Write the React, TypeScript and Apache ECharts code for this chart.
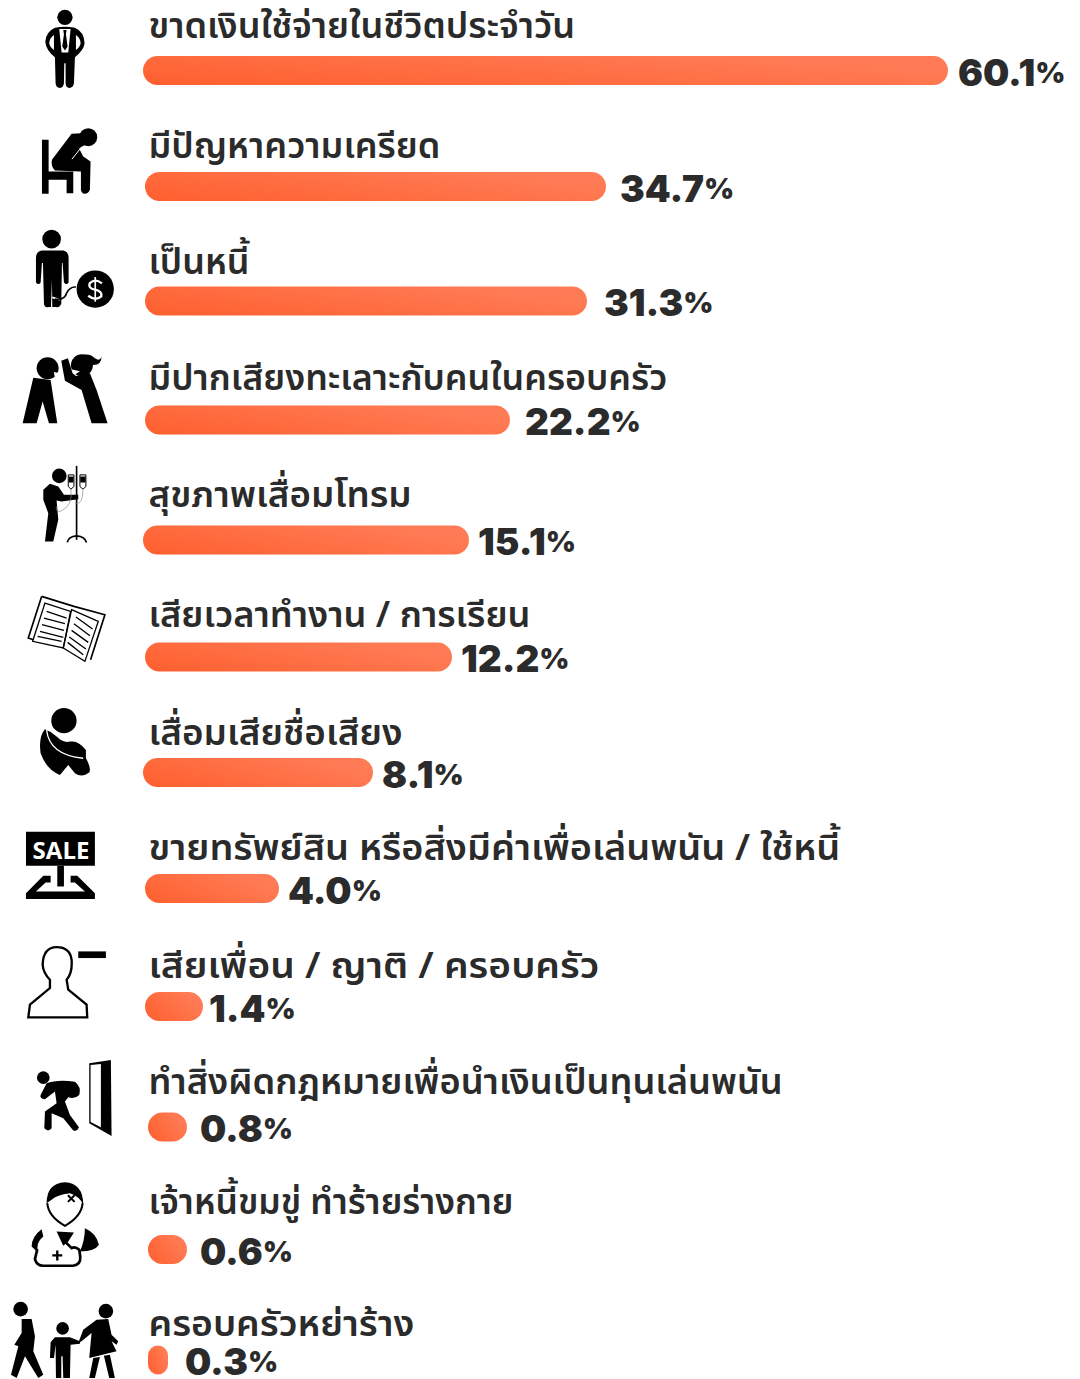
import React, { useEffect, useRef } from "react";
import * as echarts from "echarts";

const categories = [
  "ขาดเงินใช้จ่ายในชีวิตประจำวัน",
  "มีปัญหาความเครียด",
  "เป็นหนี้",
  "มีปากเสียงทะเลาะกับคนในครอบครัว",
  "สุขภาพเสื่อมโทรม",
  "เสียเวลาทำงาน / การเรียน",
  "เสื่อมเสียชื่อเสียง",
  "ขายทรัพย์สิน หรือสิ่งมีค่าเพื่อเล่นพนัน / ใช้หนี้",
  "เสียเพื่อน / ญาติ / ครอบครัว",
  "ทำสิ่งผิดกฎหมายเพื่อนำเงินเป็นทุนเล่นพนัน",
  "เจ้าหนี้ขมขู่ ทำร้ายร่างกาย",
  "ครอบครัวหย่าร้าง",
];
const percentages = ["60.1", "34.7", "31.3", "22.2", "15.1", "12.2", "8.1", "4.0", "1.4", "0.8", "0.6", "0.3"];
// The reference's bars are not proportional to the printed percentages; these are their drawn lengths.
const barLengths = [805, 461, 442, 365, 326, 307, 230, 134, 58, 39, 39, 20];

// layout (page pixels on the hidden value axes)
const barStarts = [143, 145, 145, 145, 143, 145, 143, 145, 145, 148, 148, 148];
const rowCentres = [70.5, 186.5, 301, 420, 540, 657, 772.5, 888.5, 1006.5, 1127, 1249.5, 1360];
const labelXs = [958, 620, 604, 525, 478, 461, 382, 288, 209, 200, 200, 185];
const titleBaselines = [45, 165, 281, 397, 514, 634, 752, 867, 985, 1101, 1221, 1343];
const titleWidths = [427, 292, 101, 519, 263, 382, 254, 692, 451, 635, 365, 266];

const TITLE_FONT = '"Noto Sans Thai","Noto Sans",sans-serif';
const TITLE_SIZE = 36;

const c = (x: number, y: number, r: number) =>
  `M${x - r} ${y}a${r} ${r} 0 1 0 ${2 * r} 0a${r} ${r} 0 1 0 ${-2 * r} 0Z`;

type Piece = { d: string; fill?: string; stroke?: string; w?: number };
type Icon = { oy: number; pieces: Piece[] };
const K = "#000";
const W = "#fff";

const icons: Icon[] = [
  { oy: 0, pieces: [
    { d: c(195, 52, 23), fill: K },
    { d: "M165 83Q195 78 225 83Q253 95 254 130Q252 150 225 172L222 250Q220 264 208 264Q198 264 197 250L197 190L193 190L192 250Q190 264 180 264Q168 264 167 250L165 172Q138 150 136 125Q138 95 165 83Z", fill: K },
    { d: "M162 105Q148 115 148 130Q150 143 162 150Z", fill: W },
    { d: "M228 105Q242 115 242 130Q240 143 228 150Z", fill: W },
    { d: "M178 87L212 87L205 158L185 158Z", fill: W },
    { d: "M190 90L200 90L198 103L203 140L195 152L187 140L192 103Z", fill: K },
  ]},
  { oy: 0, pieces: [
    { d: c(265, 412, 27), fill: K },
    { d: "M126 420L146 420L146 515L220 515L220 580L200 580L200 540L146 540L146 582L126 582Z", fill: K },
    { d: "M215 402L245 400L255 435L238 447L250 470L272 485L270 570Q265 582 255 582Q245 582 243 570L243 515L165 512Q152 500 156 480Z", fill: K },
    { d: "M216 478L246 440", stroke: W, w: 3 },
  ]},
  { oy: 0, pieces: [
    { d: c(155, 718, 28), fill: K },
    { d: "M125 752L190 752Q206 755 206 775L206 848Q200 858 192 848L188 790L186 790L184 912Q178 925 168 922L157 922L156 840L153 922L146 922Q134 925 132 912L129 790L126 790L122 848Q116 858 108 848L108 775Q108 755 125 752Z", fill: K },
    { d: "M157 893L180 900", stroke: W, w: 5 },
    { d: "M228 862Q210 860 200 880Q195 902 165 898", stroke: K, w: 5 },
    { d: c(286, 868, 56), fill: K },
    { d: "M306 851Q286 835 270 850Q263 866 286 870Q308 875 304 890Q287 905 265 888", stroke: W, w: 7 },
    { d: "M286 832L286 906", stroke: W, w: 5 },
  ]},
  { oy: 340, pieces: [
    { d: c(143, 85, 33), fill: K },
    { d: "M162 96L180 100L164 110Z", fill: W },
    { d: "M100 113L152 120L172 250L147 250L128 185L110 250L68 250Z", fill: K },
    { d: c(246, 76, 33), fill: K },
    { d: "M213 88L240 94L222 106Z", fill: W },
    { d: "M245 46Q270 38 285 55Q300 65 305 50Q305 75 280 75L265 75Z", fill: K },
    { d: "M228 108L270 100L290 150L323 250L275 250L245 150L195 122L184 62L204 55L218 100Z", fill: K },
  ]},
  { oy: 340, pieces: [
    { d: c(178, 408, 22), fill: K },
    { d: "M150 432L175 440L192 465L235 465L235 478L185 485L170 482L175 540L160 605L135 605L145 520L130 480L130 450Z", fill: K },
    { d: "M230 378L230 600", stroke: K, w: 5 },
    { d: "M202 608Q205 590 230 588Q255 590 260 608", stroke: K, w: 5 },
    { d: "M205 405L222 405L222 440L213 448L205 440Z", stroke: K, w: 3, fill: W },
    { d: "M240 405L258 405L258 440L249 448L240 440Z", stroke: K, w: 3, fill: W },
    { d: "M206 410L221 410L221 428L206 428Z", fill: K },
    { d: "M241 410L257 410L257 428L241 428Z", fill: K },
    { d: "M213 448Q220 500 180 515Q165 515 170 500M249 448Q250 495 225 492", stroke: "#888", w: 2 },
  ]},
  { oy: 340, pieces: [
    { d: "M125 770L85 895L100 900M125 770L222 800L315 825L272 960", stroke: K, w: 5 },
    { d: "M135 790L212 815L190 925L98 905Z", stroke: K, w: 4 },
    { d: "M215 810L295 845L255 965L190 925Z", stroke: K, w: 4 },
    { d: "M140 815L200 835M132 835L195 852M126 855L192 872M120 875L190 893M113 890L185 905", stroke: K, w: 4 },
    { d: "M228 832L278 868M222 852L270 888M215 872L265 908M208 892L258 928M203 908L250 945", stroke: K, w: 4 },
  ]},
  { oy: 690, pieces: [
    { d: c(192, 92, 38), fill: K },
    { d: "M135 118Q115 140 122 190Q140 240 180 255L205 225L225 250Q245 265 268 248Q275 235 258 205L258 180Q235 150 210 155Q190 160 170 140Q155 125 135 118Z", fill: K },
    { d: "M140 120Q148 195 250 205", stroke: W, w: 4 },
  ]},
  { oy: 690, pieces: [
    { d: "M78 426L285 426L285 528L78 528Z", fill: K },
    { d: "M172 528L192 528L192 590L172 590Z", fill: K },
    { d: "M78 628L78 610L130 558L152 558L152 578L137 578L108 605L255 605L225 578L212 578L212 558L232 558L285 610L285 628Z", fill: K },
  ]},
  { oy: 690, pieces: [
    { d: "M170 772Q130 772 128 825Q130 850 150 870L150 895L90 945L85 983L262 983L260 945L205 900L200 870Q218 850 215 810Q210 772 170 772Z", stroke: K, w: 7 },
    { d: "M235 785L318 785L318 805L235 805Z", fill: K },
  ]},
  { oy: 1040, pieces: [
    { d: c(130, 113, 19), fill: K },
    { d: "M140 130Q170 118 225 125Q245 140 238 165Q225 178 205 172L195 185L210 225L237 262Q232 275 220 272L190 235L155 220L155 265Q145 278 133 265L135 215L170 190L165 155L135 178Q118 175 122 165Z", fill: K },
    { d: "M268 70L333 60L335 288L268 250Z", fill: K },
    { d: "M272 75L303 72L303 262L272 246Z", fill: W },
  ]},
  { oy: 1040, pieces: [
    { d: "M140 490Q140 430 195 427Q250 430 250 495Q240 470 210 460Q170 465 155 480Z", fill: K },
    { d: "M142 490Q145 530 195 558Q245 530 248 490", stroke: K, w: 6 },
    { d: "M204 466L224 486M224 466L204 486", stroke: K, w: 6 },
    { d: "M125 568Q95 590 95 620L115 640Q105 610 130 590Z", fill: K },
    { d: "M112 628L105 658Q110 678 130 678L220 678Q243 675 241 650L238 630Q225 618 215 625L195 605", stroke: K, w: 8 },
    { d: "M255 565Q290 580 297 615Q285 635 240 635Q255 600 255 565Z", fill: K },
    { d: "M170 575L222 578L205 605L190 618Z", fill: K },
    { d: "M172 632L172 662M157 647L187 647", stroke: K, w: 7 },
  ]},
  { oy: 1040, pieces: [
    { d: c(62, 808, 22), fill: K },
    { d: "M65 838L95 838L105 890L100 935L130 1005L115 1015L75 950L50 1015L33 1005L55 920L43 915L65 880Z", fill: K },
    { d: c(188, 866, 19), fill: K },
    { d: "M165 893L210 893L240 905L240 912L212 915L210 1015L190 1015L188 950L184 950L184 1015L168 1015L167 915L162 955L150 955L152 908Z", fill: K },
    { d: c(318, 814, 22), fill: K },
    { d: "M290 840L325 838L335 885L355 905L350 915L335 905L350 935L268 955L275 880L245 905L235 910L250 870Z", fill: K },
    { d: "M280 955L300 952L285 1015L268 1015ZM312 948L330 945L345 1015L328 1015Z", fill: K },
  ]},
];

icons.forEach((icon, i) =>
  icon.pieces.forEach((p, j) =>
    echarts.graphic.registerShape(`ic${i}_${j}`, echarts.graphic.extendPath(p.d, {}))
  )
);

function iconGraphics(): any[] {
  const out: any[] = [];
  icons.forEach((icon, i) => {
    out.push({
      type: "group",
      x: 0,
      y: icon.oy,
      scaleX: 1 / 3,
      scaleY: 1 / 3,
      silent: true,
      children: icon.pieces.map((p, j) => ({
        type: `ic${i}_${j}`,
        style: {
          fill: p.fill ?? "none",
          stroke: p.stroke ?? "none",
          lineWidth: p.w ?? 0,
        },
      })),
    });
  });
  out.push({
    type: "text",
    x: 61,
    y: 849.5,
    silent: true,
    style: {
      text: "SALE",
      fill: "#fff",
      font: '700 24px "Open Sans",sans-serif',
      textAlign: "center",
      textVerticalAlign: "middle",
      verticalAlign: "middle",
    },
  });
  return out;
}

const rowData = categories.map((_, i) => [barStarts[i], barStarts[i] + barLengths[i], rowCentres[i]]);

const BAR_H = 29;
const TEXT = "#2b2b2b";

function makeOption() {
  const ctx = document.createElement("canvas").getContext("2d")!;
  ctx.font = `600 ${TITLE_SIZE}px ${TITLE_FONT}`;
  const scales = categories.map((t, i) => titleWidths[i] / ctx.measureText(t).width);
  return {
    animation: false,
    backgroundColor: "#fff",
    grid: { left: 0, right: 0, top: 0, bottom: 0 },
    xAxis: { type: "value", min: 0, max: 1080, show: false },
    yAxis: { type: "value", min: 0, max: 1379, inverse: true, show: false },
    graphic: iconGraphics(),
    series: [
      {
        type: "custom",
        clip: false,
        silent: true,
        data: rowData,
        encode: { x: [0, 1], y: 2 },
        renderItem: (params: any, api: any) => {
          const i = params.dataIndex;
          const [x0, yc] = api.coord([api.value(0), api.value(2)]);
          const [x1] = api.coord([api.value(1), api.value(2)]);
          const [lx] = api.coord([labelXs[i], 0]);
          const [tx, ty] = api.coord([148.5, titleBaselines[i]]);
          return {
            type: "group",
            children: [
              {
                type: "rect",
                shape: { x: x0, y: yc - BAR_H / 2, width: x1 - x0, height: BAR_H, r: 14.5 },
                style: {
                  fill: new echarts.graphic.LinearGradient(0, 1, 1, 0.5, [
                    { offset: 0, color: "#ff5f2e" },
                    { offset: 1, color: "#ff7b55" },
                  ]),
                },
              },
              {
                type: "text",
                x: tx,
                y: ty,
                scaleX: scales[i],
                style: {
                  text: categories[i],
                  fill: TEXT,
                  font: `600 ${TITLE_SIZE}px ${TITLE_FONT}`,
                  textAlign: "left",
                  verticalAlign: "bottom",
                },
              },
              {
                type: "text",
                x: lx,
                y: yc + 17.5,
                style: {
                  text: `{n|${percentages[i]}}{p|%}`,
                  verticalAlign: "bottom",
                  textAlign: "left",
                  rich: {
                    n: { fontFamily: "Inter", fontSize: 37, lineHeight: 32, fontWeight: 900, color: TEXT, fill: TEXT },
                    p: { fontFamily: "Inter", fontSize: 29, lineHeight: 28, fontWeight: 900, color: TEXT, fill: TEXT },
                  },
                },
              },
            ],
          };
        },
      },
    ],
  };
}

export default function App() {
  const ref = useRef<HTMLDivElement>(null);
  useEffect(() => {
    document.body.style.margin = "0";
    const chart = echarts.init(ref.current!, undefined, { renderer: "svg" });
    chart.setOption(makeOption() as any);
    return () => chart.dispose();
  }, []);
  return <div ref={ref} style={{ width: 1080, height: 1379 }} />;
}
